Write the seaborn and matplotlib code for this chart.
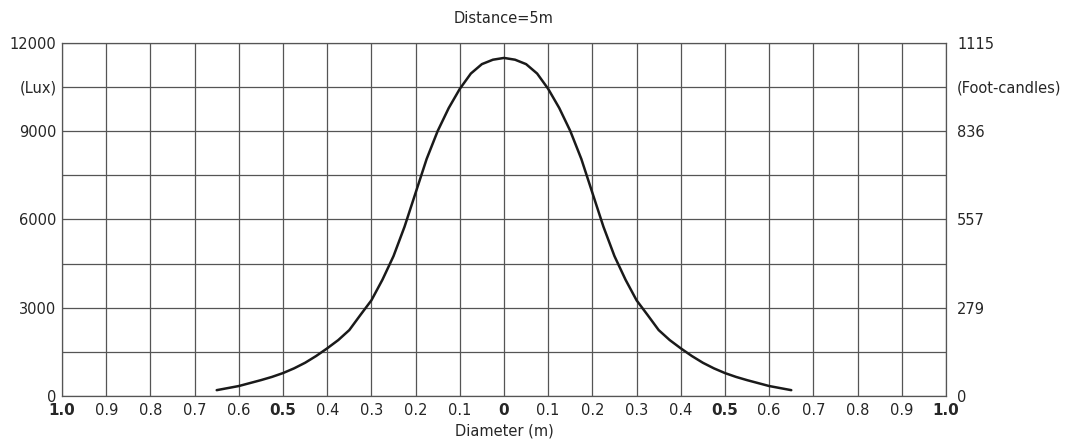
import matplotlib
matplotlib.use("Agg")
import matplotlib.pyplot as plt
import pandas as pd
import seaborn as sns

# beam profile (half profile, diameter in m, illuminance in lux)
half_d = [0.0, 0.025, 0.05, 0.075, 0.1, 0.125, 0.15, 0.175, 0.2, 0.225, 0.25, 0.275, 0.3,
          0.325, 0.35, 0.375, 0.4, 0.425, 0.45, 0.475, 0.5, 0.525, 0.55, 0.575, 0.6, 0.625, 0.65]
half_lux = [11480, 11420, 11270, 10950, 10430, 9780, 9000, 8050, 6900, 5750, 4750, 3950, 3250,
            2750, 2240, 1900, 1620, 1360, 1130, 940, 780, 650, 540, 440, 340, 270, 200]

x_ticks = [-1.0, -0.9, -0.8, -0.7, -0.6, -0.5, -0.4, -0.3, -0.2, -0.1, 0.0,
           0.1, 0.2, 0.3, 0.4, 0.5, 0.6, 0.7, 0.8, 0.9, 1.0]
x_labels = ["1.0", "0.9", "0.8", "0.7", "0.6", "0.5", "0.4", "0.3", "0.2", "0.1", "0",
            "0.1", "0.2", "0.3", "0.4", "0.5", "0.6", "0.7", "0.8", "0.9", "1.0"]
bold_labels = {-1.0, -0.5, 0.0, 0.5, 1.0}

lux_ticks = [0, 3000, 6000, 9000, 10500, 12000]
lux_labels = ["0", "3000", "6000", "9000", "(Lux)", "12000"]
fc_labels = ["0", "279", "557", "836", "(Foot-candles)", "1115"]

sns.set_style("white")
plt.rcParams["font.family"] = ["DejaVu Sans"]

fig = plt.figure(figsize=(10.73, 4.44), dpi=100)
ax = fig.add_axes([0.0578, 0.108, 0.8238, 0.796])

# mirror the half profile to get the symmetric beam
d = [-v for v in half_d[:0:-1]] + half_d
lx = half_lux[:0:-1] + half_lux
df = pd.DataFrame({"d": d, "lux": lx})
sns.lineplot(data=df, x="d", y="lux", ax=ax, color="#1a1a1a", linewidth=1.8, sort=True)

ax.set_xlim(-1.0, 1.0)
ax.set_ylim(0, 12000)

# grid
for xv in x_ticks:
    ax.axvline(xv, color="#555555", linewidth=0.9, zorder=0)
for yv in range(0, 12001, 1500):
    ax.axhline(yv, color="#555555", linewidth=0.9, zorder=0)
for s in ax.spines.values():
    s.set_color("#555555")
    s.set_linewidth(0.9)

ax.set_xticks(x_ticks)
ax.set_xticklabels(x_labels, fontsize=10.5)
for t, v in zip(ax.get_xticklabels(), x_ticks):
    if round(v, 2) in bold_labels:
        t.set_fontweight("bold")
        t.set_fontsize(11)
ax.tick_params(axis="x", length=0, pad=5)

ax.set_yticks(lux_ticks)
ax.set_yticklabels(lux_labels, fontsize=10.5)
ax.tick_params(axis="y", length=0, pad=4)

ax2 = ax.twinx()
ax2.set_ylim(0, 12000)
ax2.set_yticks(lux_ticks)
ax2.set_yticklabels(fc_labels, fontsize=10.5)
ax2.tick_params(axis="y", length=0, pad=8)
for s in ax2.spines.values():
    s.set_visible(False)

ax.set_xlabel("Diameter (m)", fontsize=10.5, labelpad=4)
ax.set_ylabel("")
ax.set_title("Distance=5m", fontsize=10.5, pad=14)

fig.savefig("out.png", dpi=100)
